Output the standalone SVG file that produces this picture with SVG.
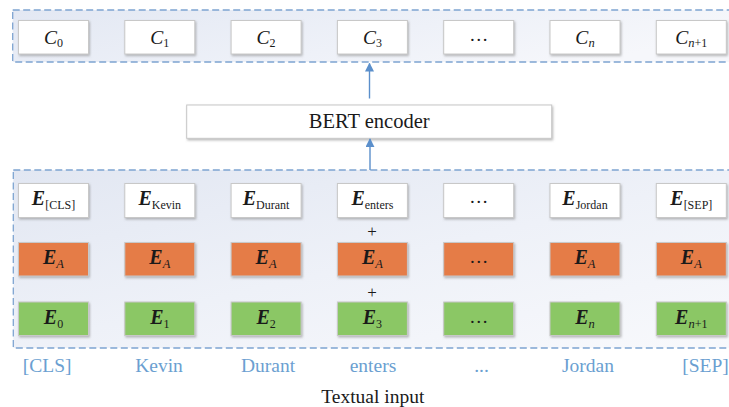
<svg xmlns="http://www.w3.org/2000/svg" width="729" height="407" viewBox="0 0 729 407">
<defs>
<linearGradient id="gTop" x1="0" y1="0" x2="1" y2="0.3">
<stop offset="0" stop-color="#e3e8f3"/>
<stop offset="0.6" stop-color="#eef1f8"/>
<stop offset="1" stop-color="#f6f7fb"/>
</linearGradient>
<linearGradient id="gBot" x1="0" y1="0" x2="1" y2="1">
<stop offset="0" stop-color="#e2e7f2"/>
<stop offset="0.5" stop-color="#eef1f8"/>
<stop offset="1" stop-color="#f8f9fc"/>
</linearGradient>
<filter id="sh" x="-10%" y="-20%" width="120%" height="150%">
<feDropShadow dx="1" dy="1.5" stdDeviation="0.8" flood-color="#808080" flood-opacity="0.55"/>
</filter>
<marker id="ah" viewBox="0 0 10 10" refX="9" refY="5" markerWidth="9" markerHeight="9" markerUnits="userSpaceOnUse" orient="auto">
<path d="M0,0 L10,5 L0,10 z" fill="#5b8fcb"/>
</marker>
</defs>
<style>
.cont{stroke:#7ea4d1;stroke-width:1.3;stroke-dasharray:7 3.5}
.box{stroke:#c8c8c8;stroke-width:1;filter:url(#sh)}
.w{fill:#ffffff}
.o{fill:#e57b46}
.g{fill:#8bc765}
text{font-family:'Liberation Serif','Times New Roman','DejaVu Serif',serif}
.t{fill:#1a1a1a}
.ci{font-style:italic;font-size:19.5px}
.E{font-style:italic;font-weight:bold;font-size:20px}
.sub{font-size:12px;font-weight:normal;font-style:normal}
.subi{font-size:12.5px;font-weight:normal;font-style:italic}
.dots{font-size:19px}
.lbl{font-size:19.5px;fill:#6b9fd1}
.conn{stroke:#5b8fcb;stroke-width:1.4;fill:none}
</style>

<g id="output-container">
<rect class="cont" x="12.7" y="10" width="740" height="52" fill="url(#gTop)"/>
</g>
<g id="input-container">
<rect class="cont" x="13.3" y="170" width="740" height="178" fill="url(#gBot)"/>
</g>

<g id="C0"><rect class="box w" x="18.5" y="20.5" width="70" height="33.5"/><text class="t ci" x="53.5" y="44.3" text-anchor="middle">C<tspan class="sub" dy="3">0</tspan></text></g>
<g id="C1"><rect class="box w" x="124.8" y="20.5" width="70" height="33.5"/><text class="t ci" x="159.8" y="44.3" text-anchor="middle">C<tspan class="sub" dy="3">1</tspan></text></g>
<g id="C2"><rect class="box w" x="231.1" y="20.5" width="70" height="33.5"/><text class="t ci" x="266.1" y="44.3" text-anchor="middle">C<tspan class="sub" dy="3">2</tspan></text></g>
<g id="C3"><rect class="box w" x="337.4" y="20.5" width="70" height="33.5"/><text class="t ci" x="372.4" y="44.3" text-anchor="middle">C<tspan class="sub" dy="3">3</tspan></text></g>
<g id="Cdots"><rect class="box w" x="443.7" y="20.5" width="70" height="33.5"/><text class="t dots" x="478.7" y="40.5" text-anchor="middle">…</text></g>
<g id="Cn"><rect class="box w" x="550" y="20.5" width="70" height="33.5"/><text class="t ci" x="585" y="44.3" text-anchor="middle">C<tspan class="subi" dy="3">n</tspan></text></g>
<g id="Cn1"><rect class="box w" x="656.3" y="20.5" width="70" height="33.5"/><text class="t ci" x="691.3" y="44.3" text-anchor="middle">C<tspan class="subi" dy="3">n</tspan><tspan class="sub">+1</tspan></text></g>

<g id="bert"><rect class="box w" x="186.7" y="105" width="365" height="33.3"/><text class="t" x="369.2" y="128.3" font-size="20.5" text-anchor="middle">BERT encoder</text></g>

<g id="E-CLS"><rect class="box w" x="18.5" y="183.5" width="70" height="34"/><text class="t E" x="53.5" y="205" text-anchor="middle">E<tspan class="sub" dy="4">[CLS]</tspan></text></g>
<g id="E-Kevin"><rect class="box w" x="124.8" y="183.5" width="70" height="34"/><text class="t E" x="159.8" y="205" text-anchor="middle">E<tspan class="sub" dy="4">Kevin</tspan></text></g>
<g id="E-Durant"><rect class="box w" x="231.1" y="183.5" width="70" height="34"/><text class="t E" x="266.1" y="205" text-anchor="middle">E<tspan class="sub" dy="4">Durant</tspan></text></g>
<g id="E-enters"><rect class="box w" x="337.4" y="183.5" width="70" height="34"/><text class="t E" x="372.4" y="205" text-anchor="middle">E<tspan class="sub" dy="4">enters</tspan></text></g>
<g id="E-dots"><rect class="box w" x="443.7" y="183.5" width="70" height="34"/><text class="t dots" x="478.7" y="203" text-anchor="middle">…</text></g>
<g id="E-Jordan"><rect class="box w" x="550" y="183.5" width="70" height="34"/><text class="t E" x="585" y="205" text-anchor="middle">E<tspan class="sub" dy="4">Jordan</tspan></text></g>
<g id="E-SEP"><rect class="box w" x="656.3" y="183.5" width="70" height="34"/><text class="t E" x="691.3" y="205" text-anchor="middle">E<tspan class="sub" dy="4">[SEP]</tspan></text></g>

<g id="EA0"><rect class="box o" x="18.5" y="242.5" width="70" height="33.5"/><text class="t E" x="53.5" y="264" text-anchor="middle">E<tspan class="subi" dy="4">A</tspan></text></g>
<g id="EA1"><rect class="box o" x="124.8" y="242.5" width="70" height="33.5"/><text class="t E" x="159.8" y="264" text-anchor="middle">E<tspan class="subi" dy="4">A</tspan></text></g>
<g id="EA2"><rect class="box o" x="231.1" y="242.5" width="70" height="33.5"/><text class="t E" x="266.1" y="264" text-anchor="middle">E<tspan class="subi" dy="4">A</tspan></text></g>
<g id="EA3"><rect class="box o" x="337.4" y="242.5" width="70" height="33.5"/><text class="t E" x="372.4" y="264" text-anchor="middle">E<tspan class="subi" dy="4">A</tspan></text></g>
<g id="EA-dots"><rect class="box o" x="443.7" y="242.5" width="70" height="33.5"/><text class="t dots" x="478.7" y="263" text-anchor="middle">…</text></g>
<g id="EAn"><rect class="box o" x="550" y="242.5" width="70" height="33.5"/><text class="t E" x="585" y="264" text-anchor="middle">E<tspan class="subi" dy="4">A</tspan></text></g>
<g id="EAn1"><rect class="box o" x="656.3" y="242.5" width="70" height="33.5"/><text class="t E" x="691.3" y="264" text-anchor="middle">E<tspan class="subi" dy="4">A</tspan></text></g>

<g id="P0"><rect class="box g" x="18.5" y="302" width="70" height="33.5"/><text class="t E" x="53.5" y="324" text-anchor="middle">E<tspan class="sub" dy="3.5">0</tspan></text></g>
<g id="P1"><rect class="box g" x="124.8" y="302" width="70" height="33.5"/><text class="t E" x="159.8" y="324" text-anchor="middle">E<tspan class="sub" dy="3.5">1</tspan></text></g>
<g id="P2"><rect class="box g" x="231.1" y="302" width="70" height="33.5"/><text class="t E" x="266.1" y="324" text-anchor="middle">E<tspan class="sub" dy="3.5">2</tspan></text></g>
<g id="P3"><rect class="box g" x="337.4" y="302" width="70" height="33.5"/><text class="t E" x="372.4" y="324" text-anchor="middle">E<tspan class="sub" dy="3.5">3</tspan></text></g>
<g id="P-dots"><rect class="box g" x="443.7" y="302" width="70" height="33.5"/><text class="t dots" x="478.7" y="323" text-anchor="middle">…</text></g>
<g id="Pn"><rect class="box g" x="550" y="302" width="70" height="33.5"/><text class="t E" x="585" y="324" text-anchor="middle">E<tspan class="subi" dy="3.5">n</tspan></text></g>
<g id="Pn1"><rect class="box g" x="656.3" y="302" width="70" height="33.5"/><text class="t E" x="691.3" y="324" text-anchor="middle">E<tspan class="subi" dy="3.5">n</tspan><tspan class="sub">+1</tspan></text></g>

<g id="plus-signs">
<text class="t" x="372" y="236.5" font-size="17" text-anchor="middle" fill="#444">+</text>
<text class="t" x="372" y="297.5" font-size="17" text-anchor="middle" fill="#444">+</text>
</g>

<g id="connectors">
<line class="conn" x1="369.5" y1="98.5" x2="369.5" y2="63.5" marker-end="url(#ah)"/>
<line class="conn" x1="370" y1="170" x2="370" y2="139" marker-end="url(#ah)"/>
</g>

<g id="input-labels">
<text class="lbl" x="47.2" y="372" text-anchor="middle">[CLS]</text>
<text class="lbl" x="159" y="372" text-anchor="middle">Kevin</text>
<text class="lbl" x="268" y="372" text-anchor="middle">Durant</text>
<text class="lbl" x="373" y="372" text-anchor="middle">enters</text>
<text class="lbl" x="481.5" y="372" text-anchor="middle">...</text>
<text class="lbl" x="588" y="372" text-anchor="middle">Jordan</text>
<text class="lbl" x="705.5" y="372" text-anchor="middle">[SEP]</text>
</g>
<g id="caption">
<text class="t" x="372.8" y="403" font-size="19.5" text-anchor="middle" fill="#222">Textual input</text>
</g>
</svg>
